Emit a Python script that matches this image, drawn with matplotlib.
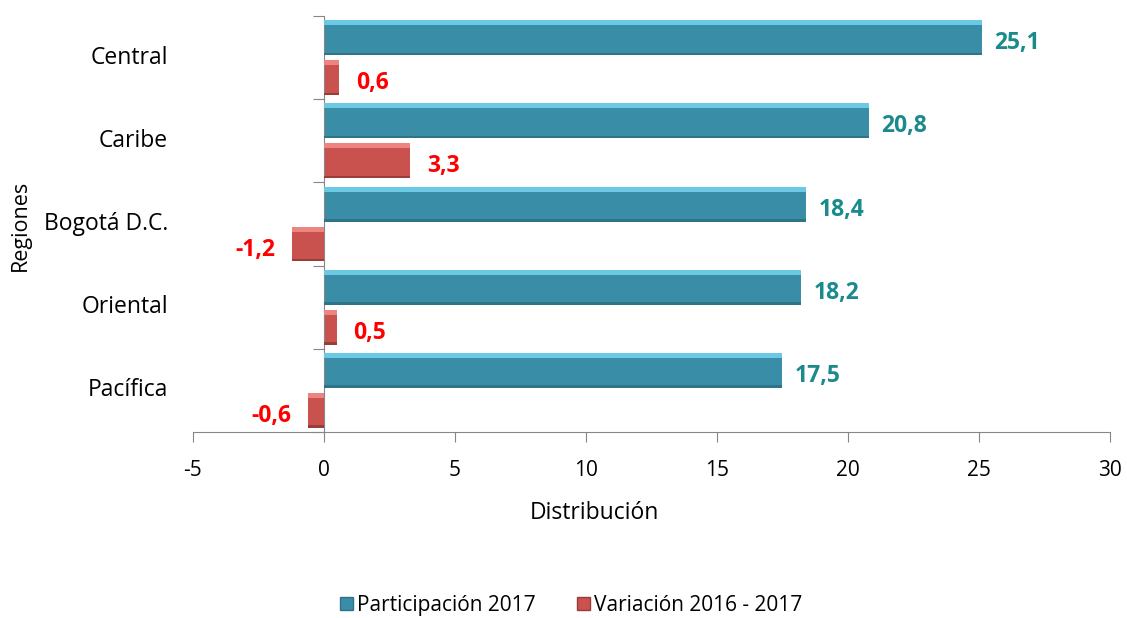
import matplotlib.pyplot as plt
from matplotlib.patches import Patch
from matplotlib.transforms import blended_transform_factory
import numpy as np

plt.rcParams['font.family'] = ['Open Sans', 'DejaVu Sans']

regiones = ["Central", "Caribe", "Bogotá D.C.", "Oriental", "Pacífica"]
participacion = [25.1, 20.8, 18.4, 18.2, 17.5]
variacion = [0.6, 3.3, -1.2, 0.5, -0.6]
xticks = [-5, 0, 5, 10, 15, 20, 25, 30]

blue, blue_hi, blue_lo = "#3a8da6", "#6cc9e3", "#2f7386"
red, red_hi, red_lo = "#c9524f", "#ec8582", "#9c3c39"

fig = plt.figure(figsize=(11.27, 6.18), dpi=100)
ax = fig.add_axes([0.171, 0.301, 0.814, 0.673])

y = np.arange(len(regiones))[::-1].astype(float)
h = 0.42
off = 0.24

def bevel_bars(ypos, vals, c, hi, lo):
    # base bar plus light top edge and dark bottom edge for the bevel look
    ax.barh(ypos, vals, height=h, color=c, edgecolor="none", zorder=2)
    ax.barh(ypos + h / 2 - 0.03, vals, height=0.06, color=hi, edgecolor="none", zorder=3)
    ax.barh(ypos - h / 2 + 0.015, vals, height=0.03, color=lo, edgecolor="none", zorder=3)

bevel_bars(y + off, participacion, blue, blue_hi, blue_lo)
bevel_bars(y - off, variacion, red, red_hi, red_lo)

for yi, v in zip(y + off, participacion):
    ax.annotate(f"{v:.1f}".replace(".", ","), (v, yi), xytext=(9, -4),
                textcoords="offset points", ha="left", va="center",
                fontsize=16.5, fontweight="bold", color="#1a8a8c")
for yi, v in zip(y - off, variacion):
    lab = f"{v:.1f}".replace(".", ",")
    if v >= 0:
        ax.annotate(lab, (v, yi), xytext=(12, -4), textcoords="offset points",
                    ha="left", va="center", fontsize=16.5, fontweight="bold", color="#ff0000")
    else:
        ax.annotate(lab, (v, yi), xytext=(-12, -4), textcoords="offset points",
                    ha="right", va="center", fontsize=16.5, fontweight="bold", color="#ff0000")

ax.set_xlim(-5, 30)
ax.set_ylim(-0.5, len(regiones) - 0.5)
ax.set_xticks(xticks)
ax.set_xticklabels([str(t) for t in xticks], fontsize=15)
ax.set_yticks(np.arange(len(regiones) + 1) - 0.5)
ax.set_yticklabels([])

for s in ["top", "right"]:
    ax.spines[s].set_visible(False)
ax.spines["left"].set_position(("data", 0))
ax.spines["left"].set_color("#868686")
ax.spines["bottom"].set_color("#868686")
ax.tick_params(axis="x", direction="out", length=7, color="#868686", pad=13)
ax.tick_params(axis="y", direction="out", length=8, color="#868686")

tr = blended_transform_factory(ax.transAxes, ax.transData)
for yi, name in zip(y, regiones):
    ax.text(-0.027, yi, name, transform=tr, ha="right", va="center", fontsize=16.5)

ax.set_xlabel("Distribución", fontsize=16.5)
ax.xaxis.set_label_coords(0.438, -0.165)
fig.text(0.018, 0.636, "Regiones", rotation=90, ha="center", va="center", fontsize=15.5)

handles = [Patch(facecolor=blue, edgecolor=blue_lo, label="Participación 2017"),
           Patch(facecolor=red, edgecolor=red_lo, label="Variación 2016 - 2017")]
fig.legend(handles=handles, loc="center", bbox_to_anchor=(0.507, 0.02), ncol=2,
           frameon=False, fontsize=15, handlelength=0.6, handleheight=0.6,
           handletextpad=0.2, columnspacing=2.0)

fig.savefig("out.png", dpi=100)
